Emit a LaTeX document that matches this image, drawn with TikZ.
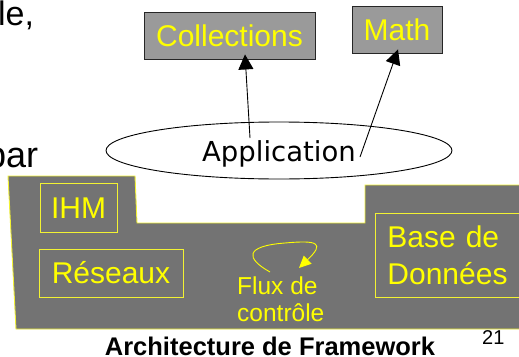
\documentclass[tikz,border=0pt]{standalone}
\usepackage{fontspec}
\setmainfont{Liberation Sans}
\newfontfamily\appfont{DejaVu Sans}
\usetikzlibrary{arrows.meta,shapes.geometric}
\definecolor{boxgray}{HTML}{9A9A9A}
\definecolor{fwgray}{HTML}{737373}
\definecolor{yel}{HTML}{FFFF00}
\definecolor{yelline}{HTML}{F2F233}
\begin{document}
\begin{tikzpicture}[x=1pt,y=-1pt,
  libbox/.style={draw=black!85, fill=boxgray, text=yel, font=\fontsize{30}{34}\selectfont,
    inner sep=0pt, text height=21.5pt, text depth=0pt, line width=0.9pt},
  fwbox/.style={draw=yelline, text=yel, font=\fontsize{30}{34}\selectfont,
    inner sep=0pt, text height=21.5pt, text depth=0pt, line width=0.9pt},
  fwmulti/.style={draw=yelline, text=yel, font=\fontsize{30}{37}\selectfont,
    inner ysep=0pt, line width=0.9pt, align=left},
  slidetext/.style={inner sep=0pt, anchor=base west, text=black},
  arr/.style={line width=0.9pt, -{Triangle[length=15pt,width=15pt]}},
  yarr/.style={draw=yel, line width=0.9pt, -{Triangle[length=12pt,width=11pt]}}]
\useasboundingbox (0,0) rectangle (519,356);
% slide fragments
\node[slidetext, font=\fontsize{34}{38}\selectfont] (frag1) at (-2,25) {le,};
\node[slidetext, font=\fontsize{36}{40}\selectfont] (frag2) at (-14,167) {par};
\node[slidetext, font=\fontsize{20}{24}\selectfont] (pg) at (482,344) {21};
% framework shape
\path[fill=fwgray, draw=yelline, line width=0.9pt]
  (8,176) -- (135,176) -- (137,223) -- (365,223) -- (365,185) -- (535,185)
  -- (535,329) -- (16,329) -- cycle;
\node[fwbox, minimum width=77, minimum height=49] (ihm) at (78.5,207.5) {IHM};
\node[fwbox, minimum width=144, minimum height=48] (res) at (111,273) {Réseaux};
\node[fwmulti, anchor=north west, inner xsep=12pt, text width=140pt, minimum height=84pt] (bdd) at (375,213) {Base de\\Données};
\node[inner sep=0pt, anchor=north west, align=left, text=yel, font=\fontsize{24.5}{27.5}\selectfont] (flux) at (237,276.5) {Flux de\\contrôle};
\coordinate (f0) at (270,272);
\coordinate (f1) at (285,243);
\coordinate (f2) at (299,268);
\draw[yarr] (f0) .. controls (245,258) and (245,246) .. (f1)
  .. controls (318,240) and (325,243) .. (f2);
% libraries
\node[libbox, minimum width=171, minimum height=47] (coll) at (229.5,35.5) {Collections};
\node[libbox, minimum width=90, minimum height=47] (math) at (397,29.5) {Math};
% application
\node[ellipse, draw, line width=0.9pt, minimum width=346, minimum height=57, inner sep=0pt,
  font=\appfont\fontsize{27.5}{32}\selectfont, text height=21pt, text depth=0pt] (app) at (279,150.5) {Application};
\coordinate (s1) at (250,138);
\coordinate (s2) at (360,157);
\draw[arr] (s1) -- ([xshift=15.5pt,yshift=5pt]coll.south);
\draw[arr] (s2) -- ([xshift=1pt,yshift=4pt]math.south);
% title
\node[inner sep=0pt, anchor=base, font=\bfseries\fontsize{25.5}{30}\selectfont] (title) at (270,355) {Architecture de Framework};
\end{tikzpicture}
\end{document}
